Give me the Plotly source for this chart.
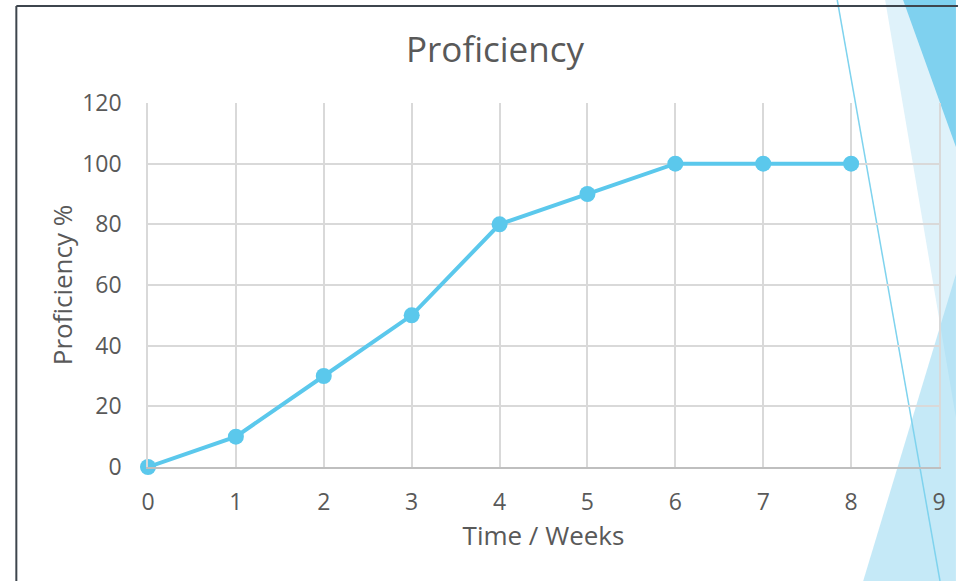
import plotly.graph_objects as go

weeks = [0, 1, 2, 3, 4, 5, 6, 7, 8]
proficiency = [0, 10, 30, 50, 80, 90, 100, 100, 100]
x_ticks = [0, 1, 2, 3, 4, 5, 6, 7, 8, 9]
y_ticks = [0, 20, 40, 60, 80, 100, 120]

W, H = 958, 581
L, R, T, B = 148, 941, 103, 467


def px(x):
    return (x - L) / (R - L)


def py(y):
    return (B - y) / (B - T)


def path(points):
    return "M " + " L ".join(f"{px(a):.5f},{py(b):.5f}" for a, b in points) + " Z"


gray = "#595959"
font = "Open Sans"

fig = go.Figure()
fig.add_trace(go.Scatter(
    x=weeks, y=proficiency, mode="lines+markers",
    line=dict(color="#5BC8EC", width=4),
    marker=dict(color="#5BC8EC", size=16),
    cliponaxis=False, showlegend=False,
))

shapes = [
    # pale band
    dict(type="path", path=path([(887, 0), (958, 0), (958, 418)]),
         fillcolor="#DFF2FA", line=dict(width=0), layer="below",
         xref="paper", yref="paper"),
    # dark top triangle
    dict(type="path", path=path([(905, 0), (958, 0), (958, 147)]),
         fillcolor="#7FD1EF", line=dict(width=0), layer="below",
         xref="paper", yref="paper"),
    # bottom triangle
    dict(type="path", path=path([(865, 581), (958, 274), (958, 581)]),
         fillcolor="rgba(150,215,240,0.55)", line=dict(width=0), layer="below",
         xref="paper", yref="paper"),
    # thin diagonal line
    dict(type="line", x0=px(839), y0=py(0), x1=px(942), y1=py(581),
         line=dict(color="#7FD3EE", width=1.5), layer="below",
         xref="paper", yref="paper"),
    # frame
    dict(type="line", x0=px(16), y0=py(6), x1=px(960), y1=py(6),
         line=dict(color="#3E454D", width=2), xref="paper", yref="paper"),
    dict(type="line", x0=px(16), y0=py(6), x1=px(16), y1=py(585),
         line=dict(color="#3E454D", width=2), xref="paper", yref="paper"),
]

fig.update_layout(
    width=W, height=H,
    margin=dict(l=L, r=W - R, t=T, b=H - B, pad=0),
    paper_bgcolor="white", plot_bgcolor="rgba(0,0,0,0)",
    font=dict(family=font, color=gray, size=22),
    title=dict(text="Proficiency", x=495 / W, xanchor="center",
               y=1 - 50 / H, yanchor="middle",
               font=dict(size=35, color=gray, family=font)),
    shapes=shapes,
    xaxis=dict(range=[0, 9], tickvals=x_ticks, showgrid=True,
               gridcolor="#D9D9D9", gridwidth=1.5, zeroline=False,
               showline=True, linecolor="#BFBFBF", linewidth=1.5,
               ticks="", ticklabelstandoff=14,
               tickfont=dict(size=23, color=gray),
               title=dict(text="Time / Weeks", standoff=3,
                          font=dict(size=26, color=gray))),
    yaxis=dict(range=[0, 120], tickvals=y_ticks, showgrid=True,
               gridcolor="#D9D9D9", gridwidth=1.5, zeroline=False,
               showline=True, mirror=True, linecolor="#D9D9D9", linewidth=1.5,
               ticks="", ticklabelstandoff=20,
               tickfont=dict(size=23, color=gray),
               title=dict(text="Proficiency %", standoff=2,
                          font=dict(size=26, color=gray))),
)

fig.write_html("out.html", config={"displayModeBar": False},
               post_script="document.body.style.margin='0';document.body.style.overflow='hidden';")
